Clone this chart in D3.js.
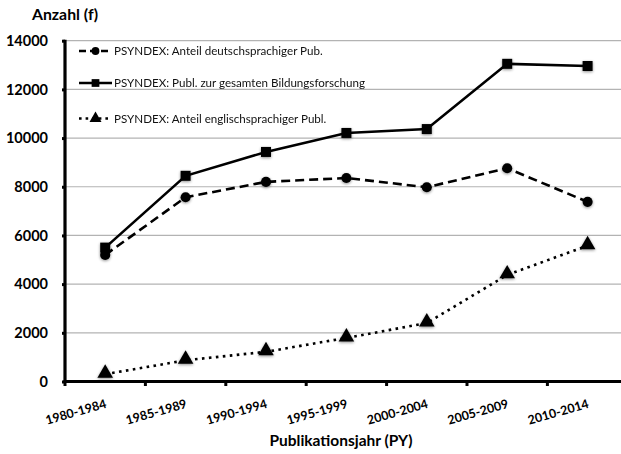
<!DOCTYPE html>
<html><head><meta charset="utf-8">
<script src="https://cdn.jsdelivr.net/npm/d3@7/dist/d3.min.js"></script>
<style>body{margin:0;background:#fff}svg{display:block}</style>
</head><body><div id="chart"></div>
<script>
const categories = ["1980-1984","1985-1989","1990-1994","1995-1999","2000-2004","2005-2009","2010-2014"];
const deutsch = [5200, 7570, 8200, 8360, 7980, 8760, 7380];
const gesamt = [5500, 8450, 9430, 10210, 10370, 13050, 12960];
const englisch = [300, 870, 1220, 1790, 2400, 4380, 5580];
const yTicks = [0, 2000, 4000, 6000, 8000, 10000, 12000, 14000];
const seriesNames = ["PSYNDEX: Anteil deutschsprachiger Pub.", "PSYNDEX: Publ. zur gesamten Bildungsforschung", "PSYNDEX: Anteil englischsprachiger Publ."];

const W = 621, H = 454;
const svg = d3.select("#chart").append("svg").attr("width", W).attr("height", H);
const defs = svg.append("defs");
const f = defs.append("filter").attr("id","sh").attr("x","-50%").attr("y","-50%").attr("width","200%").attr("height","200%");
f.append("feGaussianBlur").attr("in","SourceAlpha").attr("stdDeviation",1.6).attr("result","b");
f.append("feOffset").attr("in","b").attr("dx",0).attr("dy",1.2).attr("result","o");
f.append("feComponentTransfer").attr("in","o").attr("result","o2").append("feFuncA").attr("type","linear").attr("slope",0.45);
const fm = f.append("feMerge"); fm.append("feMergeNode").attr("in","o2"); fm.append("feMergeNode").attr("in","SourceGraphic");

const x0 = 65, x1 = 65 + 80.4 * 7, yBottom = 381.5, yTop = 40.7;
const x = d3.scaleBand().domain(categories).range([x0, x1]);
const y = d3.scaleLinear().domain([0, 14000]).range([yBottom, yTop]);
const cx = c => x(c) + x.bandwidth() / 2;
const font = "Lato, 'Open Sans', sans-serif";

// gridlines
svg.append("g").selectAll("line").data(yTicks.filter(d => d > 0)).join("line")
  .attr("x1", x0).attr("x2", W).attr("y1", d => y(d)).attr("y2", d => y(d))
  .attr("stroke", "#b3b3b3").attr("stroke-width", 1.2);

// axes
const yAxis = svg.append("g").attr("transform", `translate(${x0},0)`)
  .call(d3.axisLeft(y).tickValues(yTicks).tickSize(3).tickPadding(14).tickFormat(d3.format("d")));
yAxis.select(".domain").attr("stroke", "#000").attr("stroke-width", 3.2).attr("d", `M0,${yBottom}V${yTop-1}`);
yAxis.selectAll(".tick line").attr("stroke", "#000").attr("stroke-width", 3);
yAxis.selectAll(".tick text").attr("font-family", font).attr("font-weight", "bold").attr("font-size", "14.5px").attr("fill", "#000");

const xAxis = svg.append("g").attr("transform", `translate(0,${yBottom})`)
  .call(d3.axisBottom(x).tickSize(0).tickFormat(""));
xAxis.select(".domain").attr("stroke", "#000").attr("stroke-width", 3.2).attr("d", `M${x0-1.5},0H${W}`);
svg.append("g").selectAll("line").data(d3.range(8)).join("line")
  .attr("x1", i => x0 + i * x.step()).attr("x2", i => x0 + i * x.step())
  .attr("y1", yBottom).attr("y2", yBottom + 4.5).attr("stroke", "#000").attr("stroke-width", 3);
svg.append("g").selectAll("text").data(categories).join("text")
  .attr("transform", d => `translate(${cx(d) + 2},${yBottom + 26}) rotate(-16)`)
  .attr("text-anchor", "end").attr("font-family", font).attr("font-weight", "bold")
  .attr("font-size", "12.5px").text(d => d);

// titles
svg.append("text").attr("x", 32).attr("y", 20).attr("font-family", font).attr("font-weight", "bold")
  .attr("font-size", "15.8px").text("Anzahl (f)");
svg.append("text").attr("x", 341).attr("y", 446).attr("text-anchor", "middle").attr("font-family", font)
  .attr("font-weight", "bold").attr("font-size", "15.5px").text("Publikationsjahr (PY)");

// lines
const line = d3.line().x((d, i) => cx(categories[i])).y(d => y(d));
const styles = [
  {data: deutsch, dash: "9,5", cap: "butt", marker: "circle"},
  {data: gesamt, dash: null, cap: "butt", marker: "square"},
  {data: englisch, dash: "2.6,4.4", cap: "butt", marker: "triangle"}
];
const sym = {circle: d3.symbolCircle, square: d3.symbolSquare, triangle: d3.symbolTriangle};
const size = {circle: 80, square: 100, triangle: 105};
styles.forEach(s => {
  svg.append("path").datum(s.data).attr("d", line).attr("fill", "none").attr("stroke", "#000")
    .attr("stroke-width", 2.6).attr("stroke-dasharray", s.dash).attr("stroke-linecap", s.cap);
});
styles.forEach(s => {
  svg.append("g").attr("filter", "url(#sh)").selectAll("path").data(s.data).join("path")
    .attr("transform", (d, i) => `translate(${cx(categories[i])},${y(d) + (s.marker === "triangle" ? -1 : 0)})`)
    .attr("d", d3.symbol().type(sym[s.marker]).size(size[s.marker])).attr("fill", "#000");
});

// legend
const legY = [51, 83, 118.5];
const leg = svg.append("g");
styles.forEach((s, i) => {
  const g = leg.append("g").attr("transform", `translate(0,${legY[i]})`);
  g.append("line").attr("x1", 79).attr("x2", 112).attr("y1", 0).attr("y2", 0).attr("stroke", "#000")
    .attr("stroke-width", 2.6).attr("stroke-dasharray", s.dash === null ? null : (i === 0 ? "7,4" : "2.6,4"));
  g.append("path").attr("transform", "translate(95.5,0)").attr("d", d3.symbol().type(sym[s.marker]).size(size[s.marker] * 0.6)).attr("fill", "#000");
  g.append("text").attr("x", 114).attr("y", 0).attr("dy", "0.35em").attr("font-family", font)
    .attr("font-size", "11.6px").attr("fill", "#111").text(seriesNames[i]);
});
</script></body></html>
